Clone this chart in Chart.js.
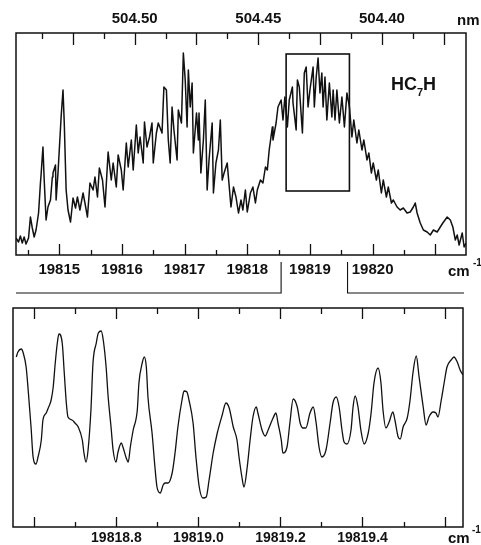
<!DOCTYPE html>
<html>
<head>
<meta charset="utf-8">
<script src="https://cdn.jsdelivr.net/npm/chart.js@4/dist/chart.umd.min.js"></script>
<style>
  html, body { margin: 0; padding: 0; background: #fff; }
  #wrap { position: relative; width: 481px; height: 545px; overflow: hidden; }
  canvas { position: absolute; left: 0; }
  #overview { top: 0; }
  #detail { top: 300px; }
</style>
</head>
<body>
<div id="wrap">
  <canvas id="overview" width="481" height="300"></canvas>
  <canvas id="detail" width="481" height="245"></canvas>
</div>
<script>
// overview spectrum (cm-1 / arbitrary intensity)
const topWavenumber = [
  19814.31, 19814.35, 19814.38, 19814.41, 19814.44, 19814.47, 19814.51, 19814.54, 19814.57, 19814.60,
  19814.63, 19814.67, 19814.70, 19814.71, 19814.74, 19814.76, 19814.79, 19814.82, 19814.86, 19814.89,
  19814.90, 19814.94, 19814.95, 19814.98, 19815.03, 19815.06, 19815.08, 19815.11, 19815.14, 19815.18,
  19815.22, 19815.26, 19815.29, 19815.33, 19815.38, 19815.41, 19815.45, 19815.49, 19815.54, 19815.57,
  19815.61, 19815.64, 19815.69, 19815.73, 19815.78, 19815.83, 19815.86, 19815.91, 19815.94, 19815.99,
  19816.02, 19816.07, 19816.10, 19816.15, 19816.18, 19816.23, 19816.26, 19816.29, 19816.34, 19816.36,
  19816.40, 19816.44, 19816.48, 19816.50, 19816.55, 19816.58, 19816.64, 19816.67, 19816.71, 19816.74,
  19816.77, 19816.80, 19816.83, 19816.88, 19816.90, 19816.95, 19816.98, 19817.01, 19817.04, 19817.06,
  19817.09, 19817.12, 19817.14, 19817.19, 19817.22, 19817.23, 19817.26, 19817.30, 19817.33, 19817.36,
  19817.39, 19817.44, 19817.46, 19817.50, 19817.54, 19817.57, 19817.60, 19817.63, 19817.68, 19817.74,
  19817.78, 19817.82, 19817.86, 19817.90, 19817.93, 19817.97, 19818.00, 19818.05, 19818.09, 19818.13,
  19818.16, 19818.21, 19818.25, 19818.29, 19818.32, 19818.35, 19818.40, 19818.41, 19818.46, 19818.49,
  19818.54, 19818.57, 19818.60, 19818.64, 19818.67, 19818.72, 19818.73, 19818.78, 19818.80, 19818.83,
  19818.88, 19818.91, 19818.94, 19818.97, 19819.00, 19819.05, 19819.07, 19819.10, 19819.13, 19819.16,
  19819.19, 19819.21, 19819.24, 19819.27, 19819.31, 19819.35, 19819.37, 19819.40, 19819.43, 19819.47,
  19819.51, 19819.55, 19819.59, 19819.63, 19819.67, 19819.70, 19819.75, 19819.78, 19819.83, 19819.86,
  19819.91, 19819.94, 19819.98, 19820.01, 19820.06, 19820.09, 19820.14, 19820.17, 19820.22, 19820.25,
  19820.30, 19820.33, 19820.39, 19820.44, 19820.49, 19820.55, 19820.60, 19820.65, 19820.68, 19820.71,
  19820.76, 19820.81, 19820.87, 19820.92, 19820.97, 19821.03, 19821.08, 19821.12, 19821.19, 19821.24,
  19821.28, 19821.32, 19821.35, 19821.38, 19821.43, 19821.46, 19821.49
];
const topIntensity = [
  17, 13, 19, 12, 18, 11, 17, 38, 27, 18,
  25, 42, 72, 80, 108, 75, 35, 48, 55, 78,
  82, 90, 55, 82, 138, 165, 132, 65, 45, 33,
  57, 47, 58, 45, 62, 52, 38, 72, 65, 78,
  58, 87, 75, 48, 103, 75, 92, 68, 100, 85,
  65, 112, 88, 115, 85, 130, 102, 118, 92, 133,
  108, 118, 132, 92, 122, 132, 122, 168, 165, 115,
  92, 148, 125, 95, 145, 132, 202, 175, 128, 185,
  148, 172, 102, 142, 115, 142, 82, 115, 155, 65,
  95, 132, 62, 92, 105, 135, 75, 82, 92, 48,
  68, 58, 42, 55, 45, 65, 43, 62, 68, 52,
  65, 75, 72, 88, 85, 105, 128, 115, 132, 148,
  155, 135, 158, 128, 155, 168, 152, 125, 175, 168,
  122, 182, 188, 148, 165, 188, 148, 178, 197, 162,
  182, 148, 178, 135, 172, 138, 165, 135, 165, 132,
  158, 128, 162, 148, 118, 135, 112, 125, 105, 115,
  95, 102, 82, 92, 75, 85, 62, 75, 58, 68,
  52, 55, 48, 45, 47, 42, 43, 48, 52, 42,
  32, 25, 23, 20, 25, 23, 28, 32, 38, 35,
  28, 15, 20, 10, 22, 8, 12
];

// expanded part of the band
const zoomWavenumber = [
  19818.556, 19818.560, 19818.568, 19818.573, 19818.580, 19818.585, 19818.592, 19818.597, 19818.604, 19818.609,
  19818.617, 19818.621, 19818.629, 19818.634, 19818.641, 19818.646, 19818.651, 19818.656, 19818.660, 19818.668,
  19818.673, 19818.678, 19818.682, 19818.692, 19818.699, 19818.707, 19818.717, 19818.721, 19818.726, 19818.731,
  19818.738, 19818.743, 19818.751, 19818.756, 19818.763, 19818.768, 19818.775, 19818.780, 19818.787, 19818.792,
  19818.799, 19818.804, 19818.812, 19818.816, 19818.824, 19818.829, 19818.834, 19818.841, 19818.851, 19818.855,
  19818.863, 19818.868, 19818.873, 19818.877, 19818.887, 19818.894, 19818.899, 19818.907, 19818.914, 19818.919,
  19818.926, 19818.936, 19818.943, 19818.950, 19818.960, 19818.965, 19818.972, 19818.977, 19818.987, 19818.994,
  19819.002, 19819.011, 19819.019, 19819.026, 19819.036, 19819.046, 19819.058, 19819.067, 19819.075, 19819.085,
  19819.094, 19819.099, 19819.106, 19819.111, 19819.119, 19819.126, 19819.133, 19819.141, 19819.145, 19819.155,
  19819.163, 19819.170, 19819.182, 19819.189, 19819.194, 19819.202, 19819.206, 19819.216, 19819.223, 19819.231,
  19819.241, 19819.248, 19819.255, 19819.262, 19819.272, 19819.280, 19819.287, 19819.294, 19819.301, 19819.311,
  19819.321, 19819.328, 19819.336, 19819.343, 19819.350, 19819.355, 19819.362, 19819.372, 19819.377, 19819.382,
  19819.389, 19819.396, 19819.404, 19819.414, 19819.421, 19819.428, 19819.438, 19819.445, 19819.450, 19819.457,
  19819.465, 19819.474, 19819.479, 19819.487, 19819.492, 19819.499, 19819.509, 19819.516, 19819.523, 19819.531,
  19819.538, 19819.548, 19819.555, 19819.562, 19819.572, 19819.579, 19819.584, 19819.592, 19819.599, 19819.606,
  19819.616, 19819.623, 19819.631, 19819.638, 19819.645
];
const zoomIntensity = [
  170, 175, 178, 174, 160, 137, 100, 70, 63, 70,
  87, 107, 114, 119, 127, 140, 164, 184, 193, 184,
  154, 124, 110, 107, 104, 100, 87, 74, 65, 77,
  117, 164, 184, 194, 196, 187, 160, 130, 100, 77,
  65, 75, 84, 80, 69, 65, 80, 97, 117, 144,
  164, 170, 160, 130, 94, 60, 40, 34, 42, 44,
  44, 54, 74, 100, 127, 136, 135, 127, 104, 70,
  40, 29, 30, 47, 74, 94, 112, 124, 119, 100,
  87, 70, 50, 40, 60, 87, 110, 120, 114, 97,
  91, 97, 109, 114, 104, 87, 74, 80, 104, 128,
  120, 104, 99, 99, 114, 120, 104, 80, 70, 77,
  104, 124, 130, 120, 97, 85, 83, 97, 120, 131,
  120, 97, 83, 94, 114, 144, 159, 144, 117, 99,
  105, 115, 107, 90, 88, 100, 109, 127, 154, 171,
  150, 120, 102, 110, 115, 114, 110, 127, 144, 160,
  167, 170, 165, 157, 152
];

// axis labels / tick positions
const topWaveLabels = [19815, 19816, 19817, 19818, 19819, 19820];
const topWaveMajor = [19815, 19816, 19817, 19818, 19819, 19820, 19821];
const topWaveMinor = [19814.5, 19815.5, 19816.5, 19817.5, 19818.5, 19819.5, 19820.5];
const nmLabels = [504.40, 504.45, 504.50];
const nmMajor = [504.375, 504.40, 504.425, 504.45, 504.475, 504.50, 504.525];
const nmMinor = [504.3875, 504.4125, 504.4375, 504.4625, 504.4875, 504.5125, 504.5375];
const zoomLabels = [19818.8, 19819.0, 19819.2, 19819.4];
const zoomMajor = [19818.6, 19818.8, 19819.0, 19819.2, 19819.4, 19819.6];
const zoomMinor = [19818.7, 19818.9, 19819.1, 19819.3, 19819.5];

// box marking the expanded region and where the connector lines drop from
const insetBox = { from: 19818.62, to: 19819.63, low: 64, high: 201 };
const zoomRange = [19818.54, 19819.60];

const FONT = "'Liberation Sans', Arial, Helvetica, sans-serif";
const INK = '#111';

// frame + inward ticks + free text
const framePlugin = {
    id: 'frame',
    afterDraw(chart, args, opts) {
        const ctx = chart.ctx;
        const a = chart.chartArea;
        ctx.save();
        ctx.strokeStyle = INK;
        ctx.fillStyle = INK;
        ctx.lineWidth = 1.5;
        ctx.strokeRect(a.left, a.top, a.right - a.left, a.bottom - a.top);

        ctx.lineWidth = 1.3;
        (opts.marks || []).forEach(m => {
            const scale = chart.scales[m.axis];
            const y0 = m.edge === 'top' ? a.top : a.bottom;
            const dir = m.edge === 'top' ? 1 : -1;
            m.values.forEach(v => {
                const x = Math.round(scale.getPixelForValue(v)) + 0.5;
                ctx.beginPath();
                ctx.moveTo(x, y0);
                ctx.lineTo(x, y0 + dir * m.len);
                ctx.stroke();
            });
        });

        (opts.texts || []).forEach(t => {
            ctx.font = 'bold ' + t.size + 'px ' + FONT;
            ctx.textAlign = 'left';
            ctx.textBaseline = 'alphabetic';
            ctx.fillText(t.text, t.x, t.y);
        });

        if (opts.extra) opts.extra(chart, ctx);
        ctx.restore();
    }
};

function drawInset(chart, ctx) {
    const xs = chart.scales.x, ys = chart.scales.y;
    const a = chart.chartArea;
    ctx.lineWidth = 1.6;
    const x1 = xs.getPixelForValue(insetBox.from), x2 = xs.getPixelForValue(insetBox.to);
    const y1 = ys.getPixelForValue(insetBox.high), y2 = ys.getPixelForValue(insetBox.low);
    ctx.strokeRect(x1, y1, x2 - x1, y2 - y1);

    // connectors down to the expanded panel
    ctx.lineWidth = 1.1;
    const cl = xs.getPixelForValue(zoomRange[0]), cr = xs.getPixelForValue(zoomRange[1]);
    const yTop = a.bottom + 7, yLow = a.bottom + 38;
    ctx.beginPath();
    ctx.moveTo(a.left, yLow); ctx.lineTo(cl, yLow); ctx.lineTo(cl, yTop);
    ctx.moveTo(cr, yTop); ctx.lineTo(cr, yLow); ctx.lineTo(a.right - 2, yLow);
    ctx.stroke();

    // molecule label HC7H
    ctx.font = 'bold 18px ' + FONT;
    ctx.fillText('HC', 391, 90);
    const w = ctx.measureText('HC').width;
    ctx.font = 'bold 11px ' + FONT;
    ctx.fillText('7', 391 + w, 96);
    const w7 = ctx.measureText('7').width;
    ctx.font = 'bold 18px ' + FONT;
    ctx.fillText('H', 391 + w + w7, 90);

    // superscript of cm-1
    ctx.font = 'bold 10px ' + FONT;
    ctx.fillText('-1', 473, 266);
}

function tickFont(size) {
    return { family: FONT, size: size, weight: 'bold' };
}

new Chart(document.getElementById('overview'), {
    type: 'line',
    data: {
        datasets: [{
            data: topWavenumber.map((w, i) => ({ x: w, y: topIntensity[i] })),
            borderColor: INK,
            borderWidth: 1.5,
            borderJoinStyle: 'round',
            pointRadius: 0,
            tension: 0
        }]
    },
    options: {
        responsive: false,
        animation: false,
        layout: { padding: { left: 16, right: 15, top: 0, bottom: 0 } },
        plugins: {
            legend: { display: false },
            tooltip: { enabled: false },
            frame: {
                marks: [
                    { axis: 'x', edge: 'bottom', values: topWaveMajor, len: 11 },
                    { axis: 'x', edge: 'bottom', values: topWaveMinor, len: 5 },
                    { axis: 'x2', edge: 'top', values: nmMajor, len: 12 },
                    { axis: 'x2', edge: 'top', values: nmMinor, len: 6 }
                ],
                texts: [
                    { text: 'nm', size: 15, x: 457, y: 25 },
                    { text: 'cm', size: 15, x: 448, y: 276 }
                ],
                extra: drawInset
            }
        },
        scales: {
            x: {
                type: 'linear', position: 'bottom',
                min: 19814.31, max: 19821.49,
                grid: { display: false, drawTicks: false },
                border: { display: false },
                afterBuildTicks: s => { s.ticks = topWaveLabels.map(v => ({ value: v })); },
                afterFit: s => { s.height = 45; },
                ticks: { padding: 6, color: INK, font: tickFont(15), maxRotation: 0, autoSkip: false,
                         callback: v => v.toFixed(0) }
            },
            x2: {
                type: 'linear', position: 'top', reverse: true,
                min: 504.366, max: 504.548,
                grid: { display: false, drawTicks: false },
                border: { display: false },
                afterBuildTicks: s => { s.ticks = nmLabels.map(v => ({ value: v })); },
                afterFit: s => { s.height = 33; },
                ticks: { padding: 5, color: INK, font: tickFont(15), maxRotation: 0, autoSkip: false,
                         callback: v => v.toFixed(2) }
            },
            y: { display: false, min: 0, max: 222 }
        }
    },
    plugins: [framePlugin]
});

new Chart(document.getElementById('detail'), {
    type: 'line',
    data: {
        datasets: [{
            data: zoomWavenumber.map((w, i) => ({ x: w, y: zoomIntensity[i] })),
            borderColor: INK,
            borderWidth: 1.3,
            pointRadius: 0,
            cubicInterpolationMode: 'monotone'
        }]
    },
    options: {
        responsive: false,
        animation: false,
        layout: { padding: { left: 13, right: 18, top: 8, bottom: 0 } },
        plugins: {
            legend: { display: false },
            tooltip: { enabled: false },
            frame: {
                marks: [
                    { axis: 'x', edge: 'bottom', values: zoomMajor, len: 10 },
                    { axis: 'x', edge: 'bottom', values: zoomMinor, len: 5 },
                    { axis: 'x', edge: 'top', values: zoomMajor, len: 11 },
                    { axis: 'x', edge: 'top', values: zoomMinor, len: 6 }
                ],
                texts: [
                    { text: 'cm', size: 15, x: 448, y: 243 },
                    { text: '-1', size: 10, x: 472, y: 233 }
                ]
            }
        },
        scales: {
            x: {
                type: 'linear', position: 'bottom',
                min: 19818.548, max: 19819.645,
                grid: { display: false, drawTicks: false },
                border: { display: false },
                afterBuildTicks: s => { s.ticks = zoomLabels.map(v => ({ value: v })); },
                afterFit: s => { s.height = 18; },
                ticks: { padding: 3, color: INK, font: tickFont(14), maxRotation: 0, autoSkip: false,
                         callback: v => v.toFixed(1) }
            },
            y: { display: false, min: 0, max: 219 }
        }
    },
    plugins: [framePlugin]
});
</script>
</body>
</html>
